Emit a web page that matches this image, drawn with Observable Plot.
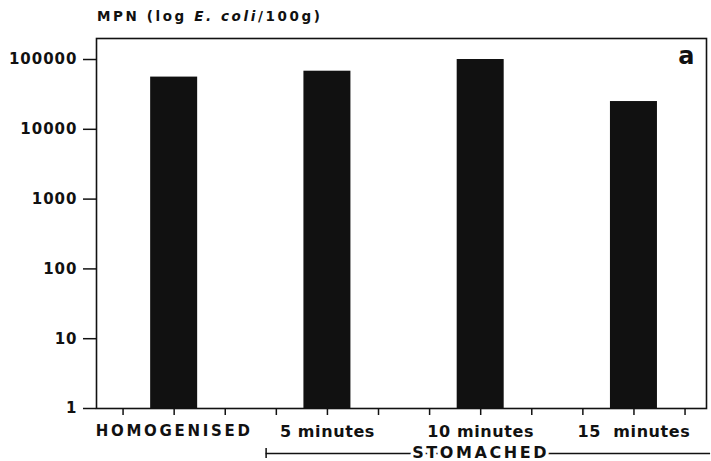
<!DOCTYPE html>
<html>
<head>
<meta charset="utf-8">
<script src="https://cdn.jsdelivr.net/npm/d3@7"></script>
<script src="https://cdn.jsdelivr.net/npm/@observablehq/plot@0.6"></script>
<style>
  html, body { margin: 0; padding: 0; background: white; }
  #chart { position: relative; width: 711px; height: 461px; }
</style>
</head>
<body>
<div id="chart"></div>
<script>
// Data
const categories = ["HOMOGENISED", "5 minutes", "10 minutes", "15  minutes"];
const positions = [1, 4, 7, 10];            // x-scale slot of each bar
const mpn = [56000, 68000, 100000, 25000];  // MPN (E. coli / 100 g)
const yTicks = [1, 10, 100, 1000, 10000, 100000];
const xTicks = [0, 1, 2, 3, 4, 5, 6, 7, 8, 9, 10, 11];
const groupLabel = "STOMACHED";
const groupSpan = [2.8, 11.5];   // x-scale extent of the STOMACHED bracket
const groupCenter = 7;
const panelLetter = "a";

const data = categories.map((c, i) => ({ cat: c, pos: positions[i], v: mpn[i] }));
const halfWidth = 0.46;

const svg = Plot.plot({
  width: 711,
  height: 461,
  marginLeft: 96,
  marginRight: 5,
  marginTop: 38,
  marginBottom: 53,
  x: { type: "linear", domain: [-0.52, 11.42] },
  y: { type: "log", domain: [1, 200000] },
  style: { fontFamily: "DejaVu Sans", fontWeight: "bold", color: "#111", background: "white" },
  marks: [
    Plot.rect(data, { x1: d => d.pos - halfWidth, x2: d => d.pos + halfWidth, y1: 1, y2: "v", fill: "#111" }),
    Plot.frame({ stroke: "#111", strokeWidth: 1.6 }),
    Plot.axisY({ ticks: yTicks, tickFormat: d => String(d), tickSize: 13, tickPadding: 6, fontSize: 15, strokeWidth: 1.5, label: null }),
    Plot.axisX({
      ticks: xTicks,
      tickFormat: d => { const i = positions.indexOf(d); return i >= 0 ? categories[i] : ""; },
      tickSize: 7, tickPadding: 10, fontSize: 16, strokeWidth: 1.5, label: null
    }),
    Plot.ruleY([1], { x1: groupSpan[0], x2: groupSpan[1], dy: 45, stroke: "#111", strokeWidth: 1.3 }),
    Plot.ruleX([groupSpan[0]], { y1: 1, y2: 1, insetTop: -5, insetBottom: -5, dy: 45, stroke: "#111", strokeWidth: 1.5 }),
    Plot.text([groupLabel], { x: groupCenter, y: 1, dy: 44, text: d => d, fontSize: 16, fontWeight: "bold", fill: "#111", stroke: "white", strokeWidth: 6, textAnchor: "middle" }),
    Plot.text([panelLetter], { frameAnchor: "top-right", text: d => d, dx: -12, dy: 8, lineAnchor: "top", fontSize: 24, fontWeight: "bold", fill: "#111" })
  ]
});

document.getElementById("chart").appendChild(svg);

const s = d3.select(svg);
s.selectAll('g[aria-label="y-axis tick label"] text').attr("letter-spacing", 1);
s.selectAll('g[aria-label="x-axis tick label"] text').each(function () {
  const t = this.textContent;
  this.style.whiteSpace = "pre";
  if (t === "HOMOGENISED") {
    d3.select(this).attr("font-size", 15).attr("letter-spacing", 2.7);
  } else {
    d3.select(this).attr("letter-spacing", 0.6);
  }
});
s.selectAll('text').filter(function () { return this.textContent === groupLabel; })
  .attr("letter-spacing", 2.6);

// Title (y-axis caption) with italic species name
const title = s.append("text")
  .attr("x", 97).attr("y", 21)
  .attr("text-anchor", "start")
  .attr("font-size", 13.5).attr("font-weight", "bold").attr("letter-spacing", 2.6)
  .attr("fill", "#111");
title.append("tspan").text("MPN (log ");
title.append("tspan").attr("font-style", "italic").text("E. coli");
title.append("tspan").text("/100g)");
</script>
</body>
</html>
